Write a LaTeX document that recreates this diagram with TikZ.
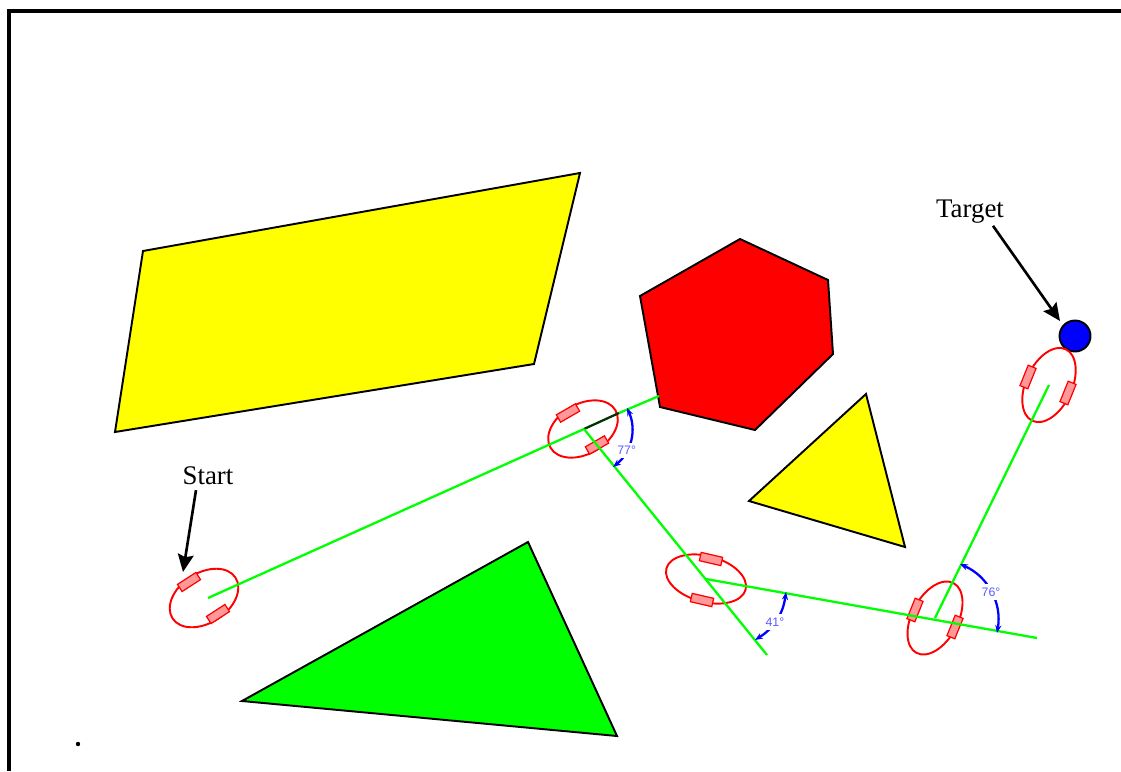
\documentclass[tikz,border=0pt]{standalone}
\usepackage{fontspec}
\setmainfont{Liberation Serif}
\setsansfont{Liberation Sans}
\usetikzlibrary{shapes,arrows.meta,positioning}
\definecolor{pureyellow}{RGB}{255,255,0}
\definecolor{puregreen}{RGB}{0,255,0}
\definecolor{purered}{RGB}{255,0,0}
\definecolor{pureblue}{RGB}{0,0,255}

\begin{document}
\begin{tikzpicture}[
    x=0.02cm, y=-0.02cm,
    obstacle/.style={draw=black, line width=1.1pt, line join=miter},
    robot/.style={draw=purered, ellipse, line width=1.1pt, inner sep=0pt, minimum width=1.5cm, minimum height=1cm},
    wheel/.style={draw=purered, rectangle, fill=purered!40, line width=0.7pt, inner sep=0pt, minimum width=0.44cm, minimum height=0.17cm},
    path/.style={draw=puregreen, line width=1.3pt},
    anglearc/.style={draw=pureblue, line width=1.3pt, {Stealth[length=4.5pt,width=3.5pt]}-{Stealth[length=4.5pt,width=3.5pt]}},
    anglelabel/.style={fill=white, text=pureblue!65, inner sep=2pt, font=\sffamily\fontsize{7}{8}\selectfont},
    label/.style={inner sep=1pt, font=\fontsize{15.3}{17}\selectfont},
    callout/.style={-{Stealth[length=10pt,width=9pt,inset=1.5pt]}, line width=1.5pt}
]
\useasboundingbox (0,0) rectangle (1121,771);

\draw[line width=2pt] (9,771) -- (9,11) -- (1121,11);
\node[circle, fill=black, inner sep=0pt, minimum size=2.5pt] (dot) at (78,744) {};

\draw[obstacle, fill=pureyellow] (143,251) -- (580,173) -- (534,364) -- (115,432) -- cycle;
\draw[obstacle, fill=purered] (640,296) -- (740,239) -- (828,280) -- (833,354) -- (755,430) -- (660,407) -- cycle;
\draw[obstacle, fill=pureyellow] (866,394) -- (905,547) -- (749,501) -- cycle;
\draw[obstacle, fill=puregreen] (528,542) -- (617,736) -- (242,701) -- cycle;

\node[circle, draw=black, fill=pureblue, line width=1.1pt, inner sep=0pt, minimum size=0.62cm] (target) at (1075,336) {};

\coordinate (p1) at (208,598);
\coordinate (p2) at (584,429);
\coordinate (p2a) at (619,413);
\coordinate (p2b) at (659,396);
\coordinate (p3) at (706,579);
\coordinate (p3a) at (767,655);
\coordinate (p4) at (935,618);
\coordinate (p4a) at (1037,638);
\coordinate (p5) at (1049,385);

\node[robot, rotate=33] (robot1) at (204,598) {};
\node[wheel, rotate=33] (wheel1a) at (189,582) {};
\node[wheel, rotate=33] (wheel1b) at (218,614) {};

\node[robot, rotate=30] (robot2) at (583,429) {};
\node[wheel, rotate=30] (wheel2a) at (568,413) {};
\node[wheel, rotate=30] (wheel2b) at (597,445) {};

\node[robot, rotate=-15, minimum width=1.64cm, minimum height=0.92cm] (robot3) at (706,579) {};
\node[wheel, rotate=-13] (wheel3a) at (711,559) {};
\node[wheel, rotate=-13] (wheel3b) at (702,600) {};

\node[robot, rotate=62, minimum width=1.58cm, minimum height=0.92cm] (robot4) at (935,618) {};
\node[wheel, rotate=68] (wheel4a) at (915,610) {};
\node[wheel, rotate=68] (wheel4b) at (955,627) {};

\node[robot, rotate=65, minimum width=1.58cm, minimum height=0.92cm] (robot5) at (1049,385) {};
\node[wheel, rotate=68] (wheel5a) at (1028,377) {};
\node[wheel, rotate=68] (wheel5b) at (1068,393) {};

\draw[path] (p1) -- (p2);
\draw[path] (p2a) -- (p2b);
\draw[line width=1.3pt, draw=black!80!green] (p2) -- (p2a);
\draw[path] (p2) -- (p3a);
\draw[path] (p3) -- (p4a);
\draw[path] (p4) -- (p5);

\coordinate (a1) at (627,408);
\coordinate (a2) at (613,467);
\coordinate (b1) at (786,592);
\coordinate (b2) at (755,640);
\coordinate (c1) at (960,564);
\coordinate (c2) at (997,633);

\draw[anglearc] (a1) to[bend left=38] node[anglelabel, pos=0.68] (anglea) {77°} (a2);
\draw[anglearc] (b1) to[bend left=25] node[anglelabel, pos=0.55] (angleb) {41°} (b2);
\draw[anglearc] (c1) to[bend left=38] node[anglelabel, pos=0.5] (anglec) {76°} (c2);

\node[label] (start) at (208,476) {Start};
\node[label] (targetlabel) at (970,212) {Target};

\coordinate (starttip) at (183,572);
\coordinate (targettip) at (1060,321);
\draw[callout] ([xshift=-0.24cm,yshift=-0.06cm]start.south) -- (starttip);
\draw[callout] ([xshift=0.46cm]targetlabel.south) -- (targettip);

\end{tikzpicture}
\end{document}
